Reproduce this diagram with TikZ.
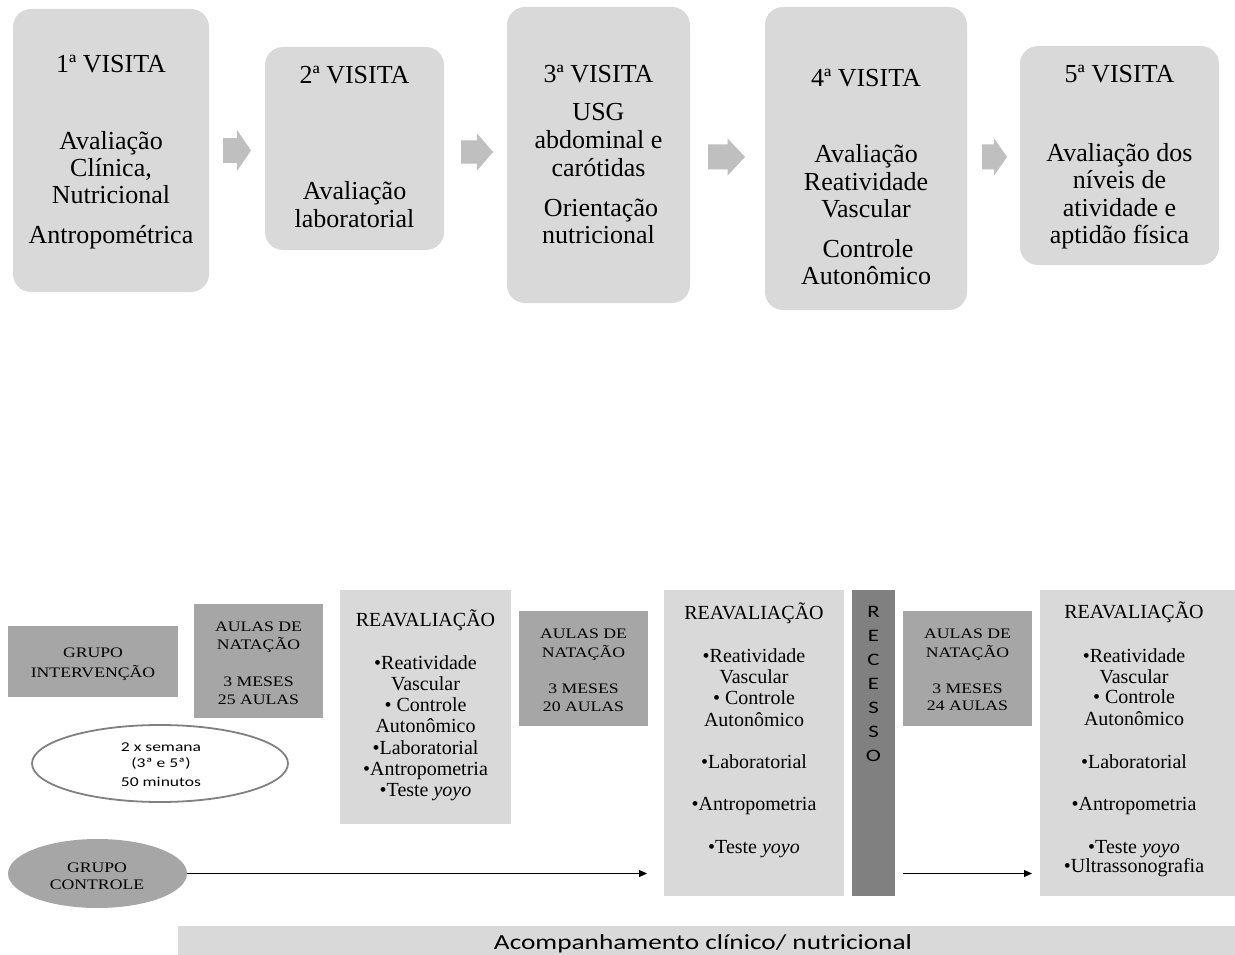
\documentclass[tikz,border=0pt]{standalone}
\usepackage{fontspec}
\setmainfont{Liberation Serif}
\newfontfamily\calfont{Carlito}
\usetikzlibrary{arrows.meta,shapes.geometric}
\definecolor{boxgray}{HTML}{D9D9D9}
\definecolor{midgray}{HTML}{A6A6A6}
\definecolor{recgray}{HTML}{808080}
\definecolor{arrgray}{HTML}{BFBFBF}
\newcommand\widetext[2]{\scalebox{#1}[1]{#2}}
\newcommand\blockarrow[7]{%
  \fill[arrgray] ({#2},{#5-#6}) -- ({#3},{#5-#6}) -- ({#3},{#5-#7}) -- ({#4},{#5})
    -- ({#3},{#5+#7}) -- ({#3},{#5+#6}) -- ({#2},{#5+#6}) -- cycle;}
\tikzset{
  topbox/.style={rectangle, rounded corners=18pt, fill=boxgray, inner sep=0pt, outer sep=0pt},
  flatbox/.style={rectangle, fill=boxgray, inner sep=0pt, outer sep=0pt},
  darkbox/.style={rectangle, fill=midgray, inner sep=0pt, outer sep=0pt},
  big/.style={font=\fontsize{26}{27}\selectfont, anchor=base, inner sep=0pt},
  mid/.style={font=\fontsize{20}{21}\selectfont, anchor=base, inner sep=0pt},
  sm/.style={font=\fontsize{14.5}{18}\selectfont, anchor=base, inner sep=0pt},
  sans/.style={font=\calfont\fontsize{13.5}{17}\selectfont, anchor=base, inner sep=0pt},
  recl/.style={font=\calfont\fontsize{17.5}{20}\selectfont, anchor=base, inner sep=0pt},
  arr/.style={-{Triangle[length=8pt,width=7pt]}, line width=1pt, black}
}
\begin{document}
\begin{tikzpicture}[x=1pt,y=-1pt]
\useasboundingbox (0,0) rectangle (1235,955);
% ---------- top row ----------
\node[topbox, minimum width=196pt, minimum height=283pt] (v1) at (111,150.5) {};
\node[topbox, minimum width=179pt, minimum height=203pt] (v2) at (354.5,148.5) {};
\node[topbox, minimum width=183pt, minimum height=296pt] (v3) at (598.5,155) {};
\node[topbox, minimum width=202pt, minimum height=303pt] (v4) at (866,158.5) {};
\node[topbox, minimum width=199pt, minimum height=219pt] (v5) at (1119.5,155.5) {};

\blockarrow{a1}{223}{237}{251}{150.5}{12.3}{20.5}
\blockarrow{a2}{461}{477}{493}{152}{11.7}{18.7}
\blockarrow{a3}{708}{727.5}{745}{157}{12.5}{18.7}
\blockarrow{a4}{982}{994}{1007}{157}{12.5}{18.7}

\node[big] (v1a) at (111,73) {1ª VISITA};
\node[big] (v1b) at (111,150) {Avaliação};
\node[big] (v1c) at (111,177) {Clínica,};
\node[big] (v1d) at (111,204) {Nutricional};
\node[big] (v1e) at (111,243) {Antropométrica};

\node[big] (v2a) at (354.5,84) {2ª VISITA};
\node[big] (v2b) at (354.5,200) {Avaliação};
\node[big] (v2c) at (354.5,227) {laboratorial};

\node[big] (v3a) at (598.5,83) {3ª VISITA};
\node[big] (v3b) at (598.5,121) {USG};
\node[big] (v3c) at (598.5,149) {abdominal e};
\node[big] (v3d) at (598.5,177) {carótidas};
\node[big] (v3e) at (601,216) {Orientação};
\node[big] (v3f) at (598.5,243) {nutricional};

\node[big] (v4a) at (866,87) {4ª VISITA};
\node[big] (v4b) at (866,163) {Avaliação};
\node[big] (v4c) at (866,191) {Reatividade};
\node[big] (v4d) at (866,218) {Vascular};
\node[big] (v4e) at (868,257) {Controle};
\node[big] (v4f) at (866,284) {Autonômico};

\node[big] (v5a) at (1119.5,83) {5ª VISITA};
\node[big] (v5b) at (1119.5,162) {Avaliação dos};
\node[big] (v5c) at (1119.5,189) {níveis de};
\node[big] (v5d) at (1119.5,216) {atividade e};
\node[big] (v5e) at (1119.5,243) {aptidão física};

% ---------- bottom part ----------
\node[darkbox, minimum width=170pt, minimum height=71pt] (gi) at (93,661.5) {};
\node[darkbox, minimum width=129pt, minimum height=114pt] (au1) at (258.5,661) {};
\node[flatbox, minimum width=171pt, minimum height=234pt] (re1) at (425.5,707) {};
\node[darkbox, minimum width=129pt, minimum height=115pt] (au2) at (583.5,668.5) {};
\node[flatbox, minimum width=180pt, minimum height=306pt] (re2) at (754,743) {};
\node[rectangle, fill=recgray, inner sep=0pt, outer sep=0pt, minimum width=43pt, minimum height=306pt] (rec) at (873.5,743) {};
\node[darkbox, minimum width=129pt, minimum height=115pt] (au3) at (967.5,668.5) {};
\node[flatbox, minimum width=195pt, minimum height=306pt] (re3) at (1137.5,743) {};
\node[ellipse, draw=recgray, line width=1.8pt, fill=white, inner sep=0pt, minimum width=256pt, minimum height=77pt] (ell) at (160,763.5) {};
\node[ellipse, fill=midgray, inner sep=0pt, outer sep=0pt, minimum width=179pt, minimum height=69pt] (gc) at (97.5,873.5) {};
\node[flatbox, minimum width=1057pt, minimum height=29pt] (bar) at (706.5,940.5) {};

\node[sm] (gi1) at (93,657) {\widetext{1.22}{GRUPO}};
\node[sm] (gi2) at (93,677) {\widetext{1.22}{INTERVENÇÃO}};

\node[sm] (au1a) at (258.5,631) {\widetext{1.22}{AULAS DE}};
\node[sm] (au1b) at (258.5,649) {\widetext{1.22}{NATAÇÃO}};
\node[sm] (au1c) at (258.5,686) {\widetext{1.22}{3 MESES}};
\node[sm] (au1d) at (258.5,704) {\widetext{1.22}{25 AULAS}};

\node[sm] (au2a) at (583.5,638) {\widetext{1.22}{AULAS DE}};
\node[sm] (au2b) at (583.5,657) {\widetext{1.22}{NATAÇÃO}};
\node[sm] (au2c) at (583.5,693) {\widetext{1.22}{3 MESES}};
\node[sm] (au2d) at (583.5,711) {\widetext{1.22}{20 AULAS}};

\node[sm] (au3a) at (967.5,638) {\widetext{1.22}{AULAS DE}};
\node[sm] (au3b) at (967.5,657) {\widetext{1.22}{NATAÇÃO}};
\node[sm] (au3c) at (967.5,693) {\widetext{1.22}{3 MESES}};
\node[sm] (au3d) at (967.5,710) {\widetext{1.22}{24 AULAS}};

\node[mid] (re1a) at (425.5,626) {REAVALIAÇÃO};
\node[mid] (re1b) at (425.5,669) {•Reatividade};
\node[mid] (re1c) at (425.5,690) {Vascular};
\node[mid] (re1d) at (425.5,711) {• Controle};
\node[mid] (re1e) at (425.5,732) {Autonômico};
\node[mid] (re1f) at (425.5,754) {•Laboratorial};
\node[mid] (re1g) at (425.5,775) {•Antropometria};
\node[mid] (re1h) at (425.5,796) {•Teste \textit{yoyo}};

\node[mid] (re2a) at (754,619) {REAVALIAÇÃO};
\node[mid] (re2b) at (754,662) {•Reatividade};
\node[mid] (re2c) at (754,683) {Vascular};
\node[mid] (re2d) at (754,704) {• Controle};
\node[mid] (re2e) at (754,726) {Autonômico};
\node[mid] (re2f) at (754,768) {•Laboratorial};
\node[mid] (re2g) at (754,810) {•Antropometria};
\node[mid] (re2h) at (754,853) {•Teste \textit{yoyo}};

\node[mid] (re3a) at (1134,618) {REAVALIAÇÃO};
\node[mid] (re3b) at (1134,662) {•Reatividade};
\node[mid] (re3c) at (1134,683) {Vascular};
\node[mid] (re3d) at (1134,703) {• Controle};
\node[mid] (re3e) at (1134,725) {Autonômico};
\node[mid] (re3f) at (1134,768) {•Laboratorial};
\node[mid] (re3g) at (1134,810) {•Antropometria};
\node[mid] (re3h) at (1134,853) {•Teste \textit{yoyo}};
\node[mid] (re3i) at (1134,872) {•Ultrassonografia};

\foreach \l [count=\i] in {R,E,C,E,S,S,O}
  \node[recl] (rl\i) at (873.5,{617+24.1*(\i-1)}) {\widetext{1.3}{\l}};

\node[sans] (el1) at (161,751) {\widetext{1.3}{2 x semana}};
\node[sans] (el2) at (161,767) {\widetext{1.3}{(3ª e 5ª)}};
\node[sans] (el3) at (161,786) {\widetext{1.3}{50 minutos}};

\node[sm] (gc1) at (97,872) {\widetext{1.22}{GRUPO}};
\node[sm] (gc2) at (97,889) {\widetext{1.22}{CONTROLE}};

\node[font=\calfont\fontsize{21.5}{24}\selectfont, anchor=base, inner sep=0pt] (bart) at (703,949) {\widetext{1.27}{Acompanhamento clínico/ nutricional}};

\draw[arr] (gc.east) -- ([xshift=-17pt]re2.west |- gc.east);
\draw[arr] ([xshift=8pt]rec.east |- gc.east) -- ([xshift=-8pt]re3.west |- gc.east);
\end{tikzpicture}
\end{document}
